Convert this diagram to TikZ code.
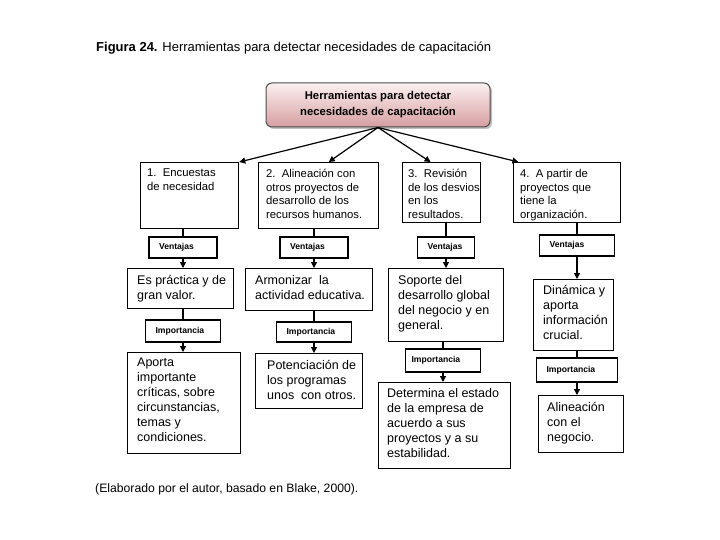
\documentclass[tikz,border=0pt]{standalone}
\usepackage{fontspec}
\setmainfont{Liberation Sans}
\usetikzlibrary{arrows.meta,calc,shadows}
\definecolor{pinktop}{RGB}{252,240,240}
\definecolor{pinkbot}{RGB}{214,158,160}
\begin{document}
\begin{tikzpicture}[x=1pt,y=-1pt,
  frame/.style={draw=black,line width=1.3pt,inner sep=0pt,anchor=north west},
  txta/.style={anchor=north west,align=left,inner sep=0pt,font=\fontsize{11.3}{13.7}\selectfont},
  txtb/.style={anchor=north west,align=left,inner sep=0pt,font=\fontsize{12.5}{15}\selectfont},
  tag/.style={draw=black,line width=1.2pt,inner ysep=0pt,inner xsep=10pt,align=left,font=\bfseries\fontsize{8.6}{9}\selectfont},
  link/.style={line width=1.1pt},
  arr/.style={line width=1.2pt,-{Triangle[length=6pt,width=6pt]}},
]
\useasboundingbox (0,0) rectangle (720,540);
\fill[white] (0,0) rectangle (720,540);

% title and footer
\node[anchor=west,inner sep=0pt,font=\fontsize{13}{15}\selectfont] (title) at (96,48)
  {\textbf{Figura 24.} Herramientas para detectar necesidades de capacitación};
\node[anchor=west,inner sep=0pt,font=\fontsize{12.2}{14}\selectfont] (foot) at (95,489)
  {(Elaborado por el autor, basado en Blake, 2000).};

% top box
\node[draw=black!70,line width=1pt,rounded corners=6pt,minimum width=224pt,minimum height=44pt,
  top color=pinktop,bottom color=pinkbot,drop shadow={shadow xshift=2pt,shadow yshift=-2pt,fill=black!50},
  align=center,font=\bfseries\fontsize{11.3}{16}\selectfont] (top) at (378,105)
  {Herramientas para detectar\\necesidades de capacitación};

% level 1
\node[frame,minimum width=98pt,minimum height=66pt] (L1a) at (140,162) {};
\node[txta] (T1a) at (147,169) {1.\ \ Encuestas\\de necesidad};
\node[frame,minimum width=120pt,minimum height=66pt] (L1b) at (258,162) {};
\node[txta] (T1b) at (266,169) {2.\ \ Alineación con\\otros proyectos de\\desarrollo de los\\recursos humanos.};
\node[frame,minimum width=78pt,minimum height=60pt] (L1c) at (402,162) {};
\node[txta] (T1c) at (408,169) {3.\ \ Revisión\\de los desvios\\en los\\resultados.};
\node[frame,minimum width=107pt,minimum height=60pt] (L1d) at (513,162) {};
\node[txta] (T1d) at (520,169) {4.\ \ A partir de\\proyectos que\\tiene la\\organización.};

% ventajas
\node[tag,text width=48pt,minimum height=21pt] (V1a) at (183,247.5) {Ventajas};
\node[tag,text width=48pt,minimum height=21pt] (V1b) at (314,247.5) {Ventajas};
\node[tag,text width=37pt,minimum height=21pt] (V1c) at (446,247.5) {Ventajas};
\node[tag,text width=55pt,minimum height=21pt] (V1d) at (577,245.5) {Ventajas};

% level 2
\node[frame,minimum width=106pt,minimum height=40pt] (L2a) at (127,268) {};
\node[txtb] (T2a) at (137,275) {Es práctica y de\\gran valor.};
\node[frame,minimum width=127pt,minimum height=42pt] (L2b) at (245,268) {};
\node[txtb] (T2b) at (255,275) {Armonizar\ \ la\\actividad educativa.};
\node[frame,minimum width=115pt,minimum height=73pt] (L2c) at (388,268) {};
\node[txtb] (T2c) at (398,275) {Soporte del\\desarrollo global\\del negocio y en\\general.};
\node[frame,minimum width=80pt,minimum height=71pt] (L2d) at (533,279) {};
\node[txtb] (T2d) at (543,285) {Dinámica y\\aporta\\información\\crucial.};

% importancia
\node[tag,text width=55pt,minimum height=22pt] (I1a) at (183,331) {Importancia};
\node[tag,text width=55pt,minimum height=20pt] (I1b) at (314,332) {Importancia};
\node[tag,inner xsep=6pt,text width=63pt,minimum height=23pt] (I1c) at (443,360.5) {Importancia};
\node[tag,text width=61pt,minimum height=24pt] (I1d) at (577,370) {Importancia};

% level 3
\node[frame,minimum width=113pt,minimum height=101pt] (L3a) at (127,352) {};
\node[txtb] (T3a) at (137,358) {Aporta\\importante\\críticas, sobre\\circunstancias,\\temas y\\condiciones.};
\node[frame,minimum width=107pt,minimum height=55pt] (L3b) at (255,353) {};
\node[txtb] (T3b) at (267,360) {Potenciación de\\los programas\\unos\ \ con otros.};
\node[frame,minimum width=132pt,minimum height=86pt] (L3c) at (378,382) {};
\node[txtb] (T3c) at (387,388) {Determina el estado\\de la empresa de\\acuerdo a sus\\proyectos y a su\\estabilidad.};
\node[frame,minimum width=85pt,minimum height=57pt] (L3d) at (538,395) {};
\node[txtb] (T3d) at (547,402) {Alineación\\con el\\negocio.};

% top arrows
\draw[arr] (top.south) -- (L1a.north east);
\draw[arr] (top.south) -- ($(L1b.north west)!0.583!(L1b.north east)$);
\draw[arr] (top.south) -- ($(L1c.north west)!0.36!(L1c.north east)$);
\draw[arr] (top.south) -- ($(L1d.north west)!0.05!(L1d.north east)$);

% level1 -> ventajas -> level2 -> importancia -> level3
\foreach \c in {a,b,c,d}{
  \draw[link] (V1\c.north |- L1\c.south) -- (V1\c.north);
  \draw[arr] (V1\c.south) -- (V1\c.south |- L2\c.north);
  \draw[link] (I1\c.north |- L2\c.south) -- (I1\c.north);
  \draw[arr] (I1\c.south) -- (I1\c.south |- L3\c.north);
}
\end{tikzpicture}
\end{document}
